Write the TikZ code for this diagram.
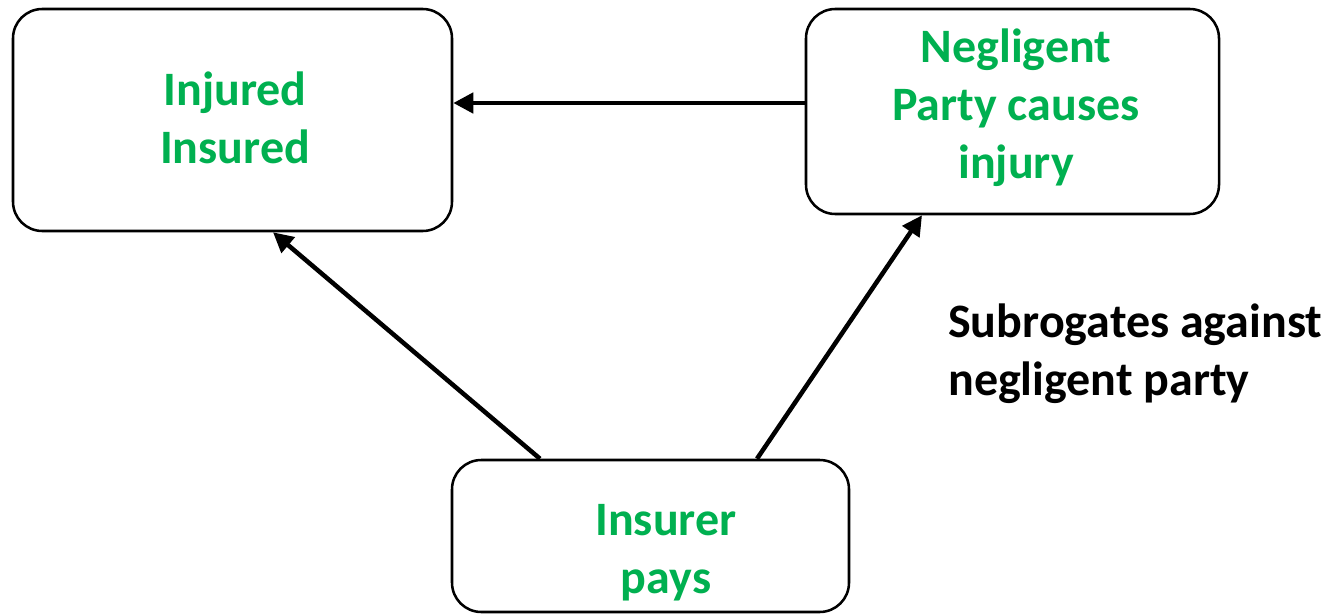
\documentclass[tikz,border=0pt]{standalone}
\usepackage{fontspec}
\setmainfont{Carlito}
\usetikzlibrary{arrows.meta}
\definecolor{txtgreen}{HTML}{00B050}
\tikzset{
  box/.style={draw=black, line width=1.9pt, rounded corners=22pt, fill=white, inner sep=0pt},
  gtext/.style={text=txtgreen, font=\fontsize{36}{43.5}\selectfont\bfseries, align=center, inner sep=0pt},
  arr/.style={line width=3.4pt, -{Triangle[length=15pt,width=15pt]}},
}
\begin{document}
\begin{tikzpicture}[x=0.75pt,y=-0.75pt]
\useasboundingbox (0,0) rectangle (1327,614);
\node[box, minimum width=329.25pt, minimum height=166.5pt] (A) at (232.5,120) {};
\node[gtext] (At) at (235,118) {Injured\\Insured};
\node[box, minimum width=309.75pt, minimum height=153.75pt] (B) at (1012.5,111.5) {};
\node[gtext] (Bt) at (1016,108) {Negligent\\Party causes\\injury};
\node[box, minimum width=297.75pt, minimum height=114pt] (C) at (650.5,536) {};
\node[gtext] (Ct) at (666,553) {Insurer\\pays};
\node[font=\fontsize{36}{43.5}\selectfont\bfseries, align=left, anchor=north west, inner sep=0pt] (S) at (948,304) {Subrogates against\\negligent party};
\draw[arr] (B.west |- 0,103) -- (A.east |- 0,103);
\draw[arr] (540,0 |- C.north) -- (273,0 |- A.south);
\draw[arr] (757,0 |- C.north) -- (922,0 |- B.south);
\end{tikzpicture}
\end{document}
